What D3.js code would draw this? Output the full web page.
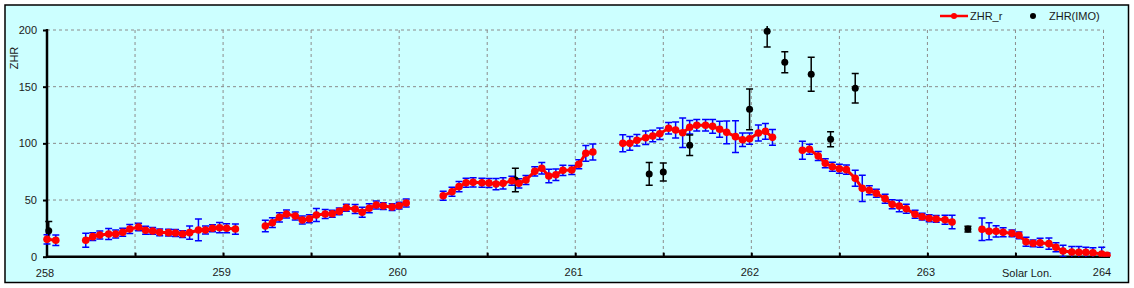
<!DOCTYPE html>
<html>
<head>
<meta charset="utf-8">
<script src="https://cdn.jsdelivr.net/npm/d3@7"></script>
<style>
	body { margin: 0; background: #fff; }
	svg text { font-family: "Liberation Sans", Arial, sans-serif; font-size: 11px; fill: #1a1a1a; }
</style>
</head>
<body>
<div id="chart"></div>
<script>
// ZHR_r series (null = gap in the line)
const lonR = [
	258.00, 258.05, null,
	258.22, 258.26, 258.30, 258.35, 258.39, 258.43, 258.47, 258.52, 258.56, 258.60, 258.64,
	258.69, 258.73, 258.77, 258.81, 258.86, 258.90, 258.94, 258.98, 259.02, 259.07, null,
	259.24, 259.28, 259.32, 259.36, 259.41, 259.45, 259.49, 259.53, 259.58, 259.62, 259.66,
	259.70, 259.75, 259.79, 259.83, 259.87, 259.91, 259.96, 260.00, 260.04, null,
	260.25, 260.30, 260.34, 260.38, 260.42, 260.47, 260.51, 260.55, 260.59, 260.64, 260.68,
	260.72, 260.77, 260.81, 260.85, 260.89, 260.93, 260.98, 261.02, 261.06, 261.10, null,
	261.27, 261.31, 261.35, 261.40, 261.44, 261.48, 261.53, 261.57, 261.61, 261.65, 261.69,
	261.74, 261.78, 261.82, 261.86, 261.91, 261.95, 261.99, 262.04, 262.08, 262.12, null,
	262.29, 262.33, 262.38, 262.42, 262.46, 262.50, 262.54, 262.59, 262.63, 262.67, 262.71,
	262.76, 262.80, 262.84, 262.88, 262.93, 262.97, 263.01, 263.05, 263.10, 263.14, null,
	263.31, 263.35, 263.39, 263.43, 263.48, 263.52, 263.56, 263.60, 263.64, 263.69, 263.73,
	263.77, 263.82, 263.86, 263.90, 263.94, 263.99, 264.02
];
const zhrR = [
	15.3, 14.5, null,
	14.5, 17.7, 19.1, 20.0, 20.0, 21.5, 24.4, 26.2, 23.3, 22.7, 21.5,
	21.2, 20.9, 20.0, 21.2, 23.6, 23.6, 25.1, 25.6, 25.1, 24.4, null,
	27.1, 30.0, 34.7, 37.7, 35.9, 32.4, 33.5, 36.8, 37.7, 37.9, 40.0,
	43.2, 42.1, 39.2, 42.7, 45.6, 44.7, 43.8, 45.0, 47.4, null,
	53.8, 57.3, 61.8, 65.3, 65.6, 65.3, 65.0, 64.1, 64.7, 67.0, 64.7,
	67.7, 75.3, 78.0, 71.2, 72.3, 76.2, 76.5, 81.5, 91.2, 92.4, null,
	100.0, 100.0, 102.7, 105.0, 106.5, 108.5, 113.3, 111.8, 109.4, 114.2, 116.0,
	116.0, 115.0, 112.4, 109.7, 105.9, 103.2, 104.1, 109.1, 110.6, 105.3, null,
	93.9, 94.8, 88.8, 82.4, 79.4, 77.6, 76.8, 69.2, 60.3, 58.6, 55.9,
	51.2, 46.2, 44.7, 42.3, 37.4, 35.3, 33.9, 33.3, 32.6, 30.6, null,
	24.2, 22.4, 22.4, 21.5, 20.6, 18.9, 13.2, 11.8, 12.3, 11.5, 8.3,
	5.0, 4.1, 3.9, 3.9, 3.5, 2.4, 1.2
];
const errR = [
	4.0, 4.7, null,
	6.2, 3.4, 3.5, 4.9, 3.5, 3.5, 4.0, 3.3, 3.5, 3.0, 3.0,
	3.0, 3.0, 3.0, 5.8, 9.6, 3.5, 3.0, 4.5, 4.0, 4.5, null,
	5.0, 4.3, 4.0, 3.5, 3.5, 3.5, 3.5, 5.8, 4.0, 3.0, 3.0,
	3.0, 4.0, 4.5, 4.0, 3.5, 3.0, 3.0, 3.0, 3.5, null,
	4.0, 4.0, 4.5, 4.0, 4.0, 4.0, 4.0, 5.0, 5.0, 4.0, 4.0,
	4.0, 4.0, 5.0, 6.0, 5.0, 4.5, 4.0, 4.0, 7.0, 7.0, null,
	7.5, 6.0, 5.0, 6.0, 5.0, 5.0, 5.0, 7.0, 13.0, 6.0, 5.0,
	5.0, 6.0, 7.0, 10.0, 14.0, 6.0, 5.0, 7.0, 7.0, 7.0, null,
	8.0, 4.5, 4.0, 4.0, 4.0, 4.0, 4.0, 7.0, 11.5, 4.0, 3.5,
	4.0, 4.0, 5.0, 4.0, 3.5, 3.0, 3.0, 3.0, 4.0, 6.0, null,
	10.0, 7.5, 5.0, 4.0, 3.0, 3.0, 4.0, 3.0, 4.0, 5.0, 4.0,
	5.0, 5.0, 5.0, 4.5, 4.5, 6.0, 2.0
];

// ZHR(IMO) points
const lonIMO = [258.01, 260.66, 261.42, 261.50, 261.65, 261.99, 262.09, 262.19, 262.34, 262.45, 262.59, 263.23];
const zhrIMO = [23.0, 67.7, 73.0, 74.7, 98.3, 130.0, 199.0, 171.5, 161.0, 103.6, 148.6, 24.4];
const errIMO = [8.0, 10.4, 10.0, 8.0, 9.0, 18.0, 14.0, 9.3, 15.0, 6.6, 13.0, 2.5];

const xGrid = [258.5, 259, 259.5, 260, 260.5, 261, 261.5, 262, 262.5, 263, 263.5, 264];
const yTicks = [0, 50, 100, 150, 200];

function drawChart() {
	const width = 1134, height = 288;
	const left = 47, right = 1103.5, top = 30, bottom = 256.7;

	const svg = d3.select('#chart').append('svg')
		.attr('width', width)
		.attr('height', height);

	// frame
	svg.append('rect')
		.attr('x', 5).attr('y', 5)
		.attr('width', 1123.5).attr('height', 277.5)
		.attr('fill', '#ccffff')
		.attr('stroke', '#000')
		.attr('stroke-width', 1.5);

	const x = d3.scaleLinear().domain([258, 264]).range([left, right]);
	const y = d3.scaleLinear().domain([0, 200]).range([bottom, top]);

	// grid
	svg.append('g').selectAll('line')
		.data(xGrid)
		.enter().append('line')
		.attr('x1', d => x(d)).attr('x2', d => x(d))
		.attr('y1', top).attr('y2', bottom)
		.attr('stroke', '#8c8c8c')
		.attr('stroke-dasharray', '3,3');

	svg.append('g').selectAll('line')
		.data(yTicks.filter(d => d > 0))
		.enter().append('line')
		.attr('x1', left).attr('x2', x(264))
		.attr('y1', d => y(d)).attr('y2', d => y(d))
		.attr('stroke', '#8c8c8c')
		.attr('stroke-dasharray', '3,3');

	// axes
	const xAxis = svg.append('g')
		.attr('transform', `translate(0,${bottom})`)
		.call(d3.axisBottom(x)
			.tickValues(xGrid)
			.tickSize(-4)
			.tickSizeOuter(0)
			.tickPadding(12)
			.tickFormat(d => Number.isInteger(d) ? d : ''));
	xAxis.select('.domain').remove();
	xAxis.selectAll('.tick line').attr('stroke', '#000').attr('stroke-width', 2);
	xAxis.selectAll('.tick text').attr('dx', -2);

	svg.append('text')
		.attr('x', x(258) - 2)
		.attr('y', bottom + 12)
		.attr('dy', '0.71em')
		.attr('text-anchor', 'middle')
		.text('258');

	const yAxis = svg.append('g')
		.attr('transform', `translate(${left},0)`)
		.call(d3.axisLeft(y)
			.tickValues(yTicks)
			.tickSize(4)
			.tickSizeOuter(0)
			.tickPadding(6));
	yAxis.select('.domain').remove();
	yAxis.selectAll('.tick line').attr('stroke', '#000').attr('stroke-width', 2);

	svg.append('line')
		.attr('x1', left).attr('x2', left)
		.attr('y1', top - 1).attr('y2', bottom + 1)
		.attr('stroke', '#000').attr('stroke-width', 2.5);
	svg.append('line')
		.attr('x1', left - 1).attr('x2', 1110)
		.attr('y1', bottom).attr('y2', bottom)
		.attr('stroke', '#000').attr('stroke-width', 2.5);

	svg.append('text')
		.attr('x', 1002)
		.attr('y', bottom + 12)
		.attr('dy', '0.71em')
		.text('Solar Lon.');

	svg.append('text')
		.attr('transform', 'translate(18,58) rotate(-90)')
		.attr('text-anchor', 'middle')
		.text('ZHR');

	// clip for data
	svg.append('clipPath').attr('id', 'plotClip')
		.append('rect')
		.attr('x', left - 6).attr('y', 26)
		.attr('width', 1112 - left + 6).attr('height', bottom - 26);

	const plot = svg.append('g').attr('clip-path', 'url(#plotClip)');

	const red = lonR.map((d, i) => ({ lon: d, zhr: zhrR[i], err: errR[i] }));
	const redPts = red.filter(d => d.zhr !== null);
	const imo = lonIMO.map((d, i) => ({ lon: d, zhr: zhrIMO[i], err: errIMO[i] }));

	// error bars
	function errorBars(data, color) {
		const g = plot.append('g')
			.attr('stroke', color)
			.attr('stroke-width', 1.5);
		g.selectAll('.bar')
			.data(data)
			.enter().append('line')
			.attr('x1', d => x(d.lon)).attr('x2', d => x(d.lon))
			.attr('y1', d => y(d.zhr + d.err)).attr('y2', d => y(d.zhr - d.err));
		g.selectAll('.capT')
			.data(data)
			.enter().append('line')
			.attr('x1', d => x(d.lon) - 3.5).attr('x2', d => x(d.lon) + 3.5)
			.attr('y1', d => y(d.zhr + d.err)).attr('y2', d => y(d.zhr + d.err));
		g.selectAll('.capB')
			.data(data)
			.enter().append('line')
			.attr('x1', d => x(d.lon) - 3.5).attr('x2', d => x(d.lon) + 3.5)
			.attr('y1', d => y(d.zhr - d.err)).attr('y2', d => y(d.zhr - d.err));
	}

	errorBars(redPts, '#0000ff');
	errorBars(imo, '#000');

	plot.selectAll('.imo')
		.data(imo)
		.enter().append('circle')
		.attr('cx', d => x(d.lon))
		.attr('cy', d => y(d.zhr))
		.attr('r', 3.5)
		.attr('fill', '#000');

	const line = d3.line()
		.defined(d => d.zhr !== null)
		.x(d => x(d.lon))
		.y(d => y(d.zhr));

	plot.append('path')
		.datum(red)
		.attr('d', line)
		.attr('fill', 'none')
		.attr('stroke', '#ff0000')
		.attr('stroke-width', 3);

	plot.selectAll('.red')
		.data(redPts)
		.enter().append('circle')
		.attr('cx', d => x(d.lon))
		.attr('cy', d => y(d.zhr))
		.attr('r', 3.8)
		.attr('fill', '#ff0000');

	// legend
	const legend = svg.append('g');
	legend.append('line')
		.attr('x1', 940).attr('x2', 968)
		.attr('y1', 16).attr('y2', 16)
		.attr('stroke', '#ff0000').attr('stroke-width', 2.5);
	legend.append('circle')
		.attr('cx', 954).attr('cy', 16).attr('r', 3)
		.attr('fill', '#ff0000');
	legend.append('text')
		.attr('x', 970).attr('y', 20)
		.text('ZHR_r');
	legend.append('circle')
		.attr('cx', 1033).attr('cy', 16).attr('r', 3)
		.attr('fill', '#000');
	legend.append('text')
		.attr('x', 1049).attr('y', 20)
		.text('ZHR(IMO)');
}

drawChart();
</script>
</body>
</html>
